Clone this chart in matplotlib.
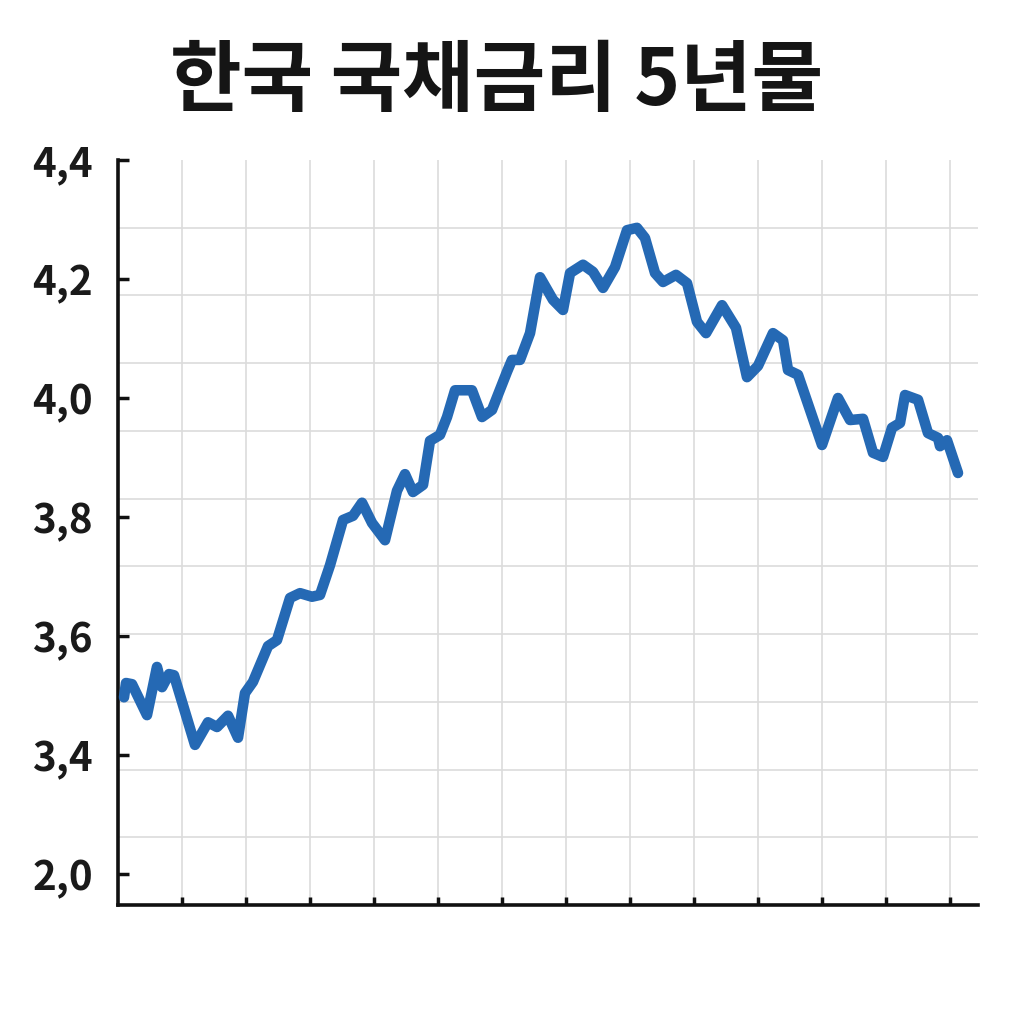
import numpy as np
import matplotlib
matplotlib.use('Agg')
import matplotlib.pyplot as plt
from matplotlib.ticker import FixedLocator

# data (x in tick units, yield in %)
x_pos = [0.094, 0.125, 0.219, 0.453, 0.609, 0.688, 0.797, 0.875, 1.203, 1.406,
         1.547, 1.719, 1.875, 1.984, 2.109, 2.344, 2.484, 2.688, 2.844, 3.031,
         3.156, 3.313, 3.516, 3.672, 3.813, 3.969, 4.172, 4.359, 4.484, 4.609,
         4.766, 4.875, 5.031, 5.141, 5.266, 5.531, 5.688, 5.844, 6.078, 6.156,
         6.281, 6.438, 6.594, 6.797, 6.953, 7.063, 7.266, 7.422, 7.578, 7.766,
         7.953, 8.109, 8.234, 8.391, 8.516, 8.719, 8.891, 9.047, 9.188, 9.438,
         9.656, 9.828, 10.0, 10.234, 10.391, 10.469, 10.625, 11.0, 11.25, 11.438,
         11.641, 11.797, 11.953, 12.094, 12.219, 12.297, 12.5, 12.656, 12.813, 12.844,
         12.953, 13.125]
yields = [3.497, 3.521, 3.519, 3.467, 3.548, 3.514, 3.536, 3.534, 3.417, 3.455,
          3.447, 3.466, 3.429, 3.504, 3.523, 3.583, 3.593, 3.664, 3.672, 3.666,
          3.669, 3.719, 3.795, 3.802, 3.824, 3.790, 3.761, 3.844, 3.872, 3.842,
          3.854, 3.928, 3.938, 3.968, 4.013, 4.013, 3.968, 3.980, 4.044, 4.064,
          4.064, 4.109, 4.203, 4.165, 4.148, 4.210, 4.224, 4.212, 4.185, 4.220,
          4.282, 4.286, 4.269, 4.210, 4.195, 4.207, 4.193, 4.128, 4.109, 4.156,
          4.118, 4.035, 4.054, 4.109, 4.097, 4.047, 4.039, 3.921, 4.000, 3.963,
          3.965, 3.908, 3.901, 3.950, 3.958, 4.005, 3.997, 3.941, 3.933, 3.919,
          3.929, 3.874]

y_ticks = [4.4, 4.2, 4.0, 3.8, 3.6, 3.4, 3.2]
y_labels = ['4,4', '4,2', '4,0', '3,8', '3,6', '3,4', '2,0']
x_ticks = list(range(1, 14))
title = '한국 국채금리 5년물'

plt.rcParams['font.family'] = ['Noto Sans CJK KR', 'DejaVu Sans']

fig = plt.figure(figsize=(10.24, 10.24), dpi=100)
ax = fig.add_axes([118 / 1024, 1 - 905 / 1024, 860 / 1024, 745 / 1024])

y_lo = 4.4 - 745 / 595
ax.set_xlim(0, 860 / 64)
ax.set_ylim(y_lo, 4.4)

ax.plot(x_pos, yields, color='#2569b4', lw=7.6, solid_joinstyle='round',
        solid_capstyle='round', zorder=3)

# grid
ax.set_xticks(x_ticks)
ax.set_xticklabels([''] * len(x_ticks))
ax.yaxis.set_minor_locator(FixedLocator(np.linspace(y_lo, 4.4, 12)))
ax.grid(True, axis='x', which='major', color='#dcdcdc', lw=1.2)
ax.grid(True, axis='y', which='minor', color='#dcdcdc', lw=1.2)
ax.set_axisbelow(True)

ax.set_yticks(y_ticks)
ax.set_yticklabels(y_labels, fontsize=29, fontweight='bold', color='#1a1a1a')
ax.tick_params(axis='y', which='major', direction='in', length=8, width=2.5,
               pad=18, color='#111111')
ax.tick_params(axis='y', which='minor', length=0)
ax.tick_params(axis='x', direction='in', length=6, width=2.5, color='#111111')

for s in ['top', 'right']:
    ax.spines[s].set_visible(False)
for s in ['left', 'bottom']:
    ax.spines[s].set_linewidth(2.6)
    ax.spines[s].set_color('#111111')

fig.text(497 / 1024, 1 - 82 / 1024, title, ha='center', va='center',
         fontsize=56, fontweight='black', color='#151515')

fig.savefig('out.png', dpi=100, facecolor='white')
